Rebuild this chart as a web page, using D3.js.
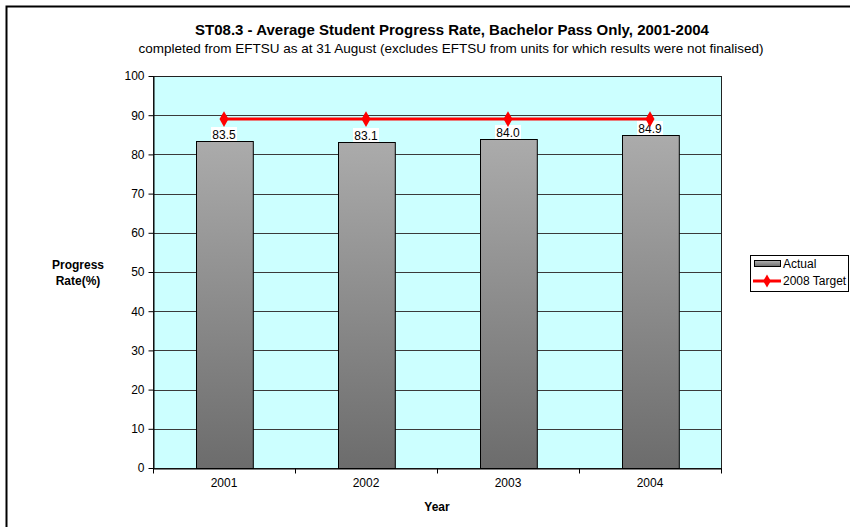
<!DOCTYPE html>
<meta charset="utf-8">
<style>
body { margin: 0; background: #fff; }
svg { display: block; font-family: "Liberation Sans", Arial, sans-serif; }
.grid line { stroke: #3a3a3a; stroke-width: 1; }
.axis path, .axis line { stroke: #000; }
.axis text { font-size: 12px; fill: #000; }
</style>
<svg width="850" height="527"></svg>
<script src="https://cdn.jsdelivr.net/npm/d3@7"></script>
<script>

var years = ["2001", "2002", "2003", "2004"];
var actual = [83.5, 83.1, 84.0, 84.9];
var target = [89, 89, 89, 89];
var yTicks = [0, 10, 20, 30, 40, 50, 60, 70, 80, 90, 100];

var svg = d3.select("svg");

// outer frame (runs off the right and bottom)
svg.append("rect")
    .attr("x", 6.5).attr("y", 6.5)
    .attr("width", 900).attr("height", 600)
    .attr("fill", "none").attr("stroke", "#000").attr("stroke-width", 2);

var plot = {left: 153, top: 76, right: 721, bottom: 468};

var x = d3.scaleBand()
    .domain(years)
    .range([plot.left, plot.right])
    .paddingInner(0.6)
    .paddingOuter(0.3);

var xc = d3.scalePoint()
    .domain(years)
    .range([plot.left, plot.right])
    .padding(0.5);

var y = d3.scaleLinear()
    .domain([0, 100])
    .range([plot.bottom, plot.top]);

var defs = svg.append("defs");
var grad = defs.append("linearGradient")
    .attr("id", "barGrad")
    .attr("x1", 0).attr("y1", 0).attr("x2", 0).attr("y2", 1);
grad.append("stop").attr("offset", "0%").attr("stop-color", "#ababab");
grad.append("stop").attr("offset", "100%").attr("stop-color", "#6c6c6c");

var lgrad = defs.append("linearGradient")
    .attr("id", "legGrad")
    .attr("x1", 0).attr("y1", 0).attr("x2", 0).attr("y2", 1);
lgrad.append("stop").attr("offset", "0%").attr("stop-color", "#b5b5b5");
lgrad.append("stop").attr("offset", "100%").attr("stop-color", "#6c6c6c");

// plot background
svg.append("rect")
    .attr("x", plot.left).attr("y", plot.top)
    .attr("width", plot.right - plot.left)
    .attr("height", plot.bottom - plot.top)
    .attr("fill", "#ccffff");

// gridlines
svg.append("g")
    .attr("class", "grid")
  .selectAll("line")
  .data(yTicks.slice(1))
  .enter().append("line")
    .attr("x1", plot.left).attr("x2", plot.right)
    .attr("y1", function(d) { return Math.round(y(d)) + 0.5; })
    .attr("y2", function(d) { return Math.round(y(d)) + 0.5; });

// plot border
svg.append("rect")
    .attr("x", plot.left + 0.5).attr("y", plot.top + 0.5)
    .attr("width", plot.right - plot.left)
    .attr("height", plot.bottom - plot.top)
    .attr("fill", "none").attr("stroke", "#222");

// bars
svg.append("g")
  .selectAll("rect")
  .data(actual)
  .enter().append("rect")
    .attr("x", function(d, i) { return Math.round(x(years[i])) + 0.5; })
    .attr("y", function(d) { return Math.round(y(d)) + 0.5; })
    .attr("width", x.bandwidth())
    .attr("height", function(d) { return plot.bottom - Math.round(y(d)); })
    .attr("fill", "url(#barGrad)")
    .attr("stroke", "#000").attr("stroke-width", 1);

// value labels
var labels = svg.append("g")
  .selectAll("g")
  .data(actual)
  .enter().append("g")
    .attr("transform", function(d, i) {
      return "translate(" + xc(years[i]) + "," + Math.round(y(d)) + ")";
    });
labels.append("rect")
    .attr("x", -13).attr("y", -14)
    .attr("width", 26).attr("height", 14)
    .attr("fill", "#fff");
labels.append("text")
    .attr("text-anchor", "middle")
    .attr("y", -2)
    .attr("font-size", "12px")
    .text(function(d) { return d.toFixed(1); });

// target line
var line = d3.line()
    .x(function(d, i) { return xc(years[i]); })
    .y(function(d) { return y(d); });
svg.append("path")
    .datum(target)
    .attr("d", line)
    .attr("fill", "none")
    .attr("stroke", "#ff0000")
    .attr("stroke-width", 3);
svg.append("g")
  .selectAll("path")
  .data(target)
  .enter().append("path")
    .attr("d", d3.symbol().type(d3.symbolDiamond).size(70))
    .attr("transform", function(d, i) {
      return "translate(" + xc(years[i]) + "," + y(d) + ")";
    })
    .attr("fill", "#ff0000");

// axes
var yAxis = svg.append("g")
    .attr("class", "axis")
    .attr("transform", "translate(" + (plot.left + 0.5) + ",0)")
    .call(d3.axisLeft(y).tickValues(yTicks).tickSize(5).tickPadding(4).tickSizeOuter(0));

var xAxis = svg.append("g")
    .attr("class", "axis")
    .attr("transform", "translate(0," + (plot.bottom + 0.5) + ")")
    .call(d3.axisBottom(x).tickSize(0).tickPadding(10).tickSizeOuter(0));
xAxis.append("g")
  .selectAll("line")
  .data(d3.range(years.length + 1))
  .enter().append("line")
    .attr("x1", function(i) { return Math.round(plot.left + i * (plot.right - plot.left) / years.length) + 0.5; })
    .attr("x2", function(i) { return Math.round(plot.left + i * (plot.right - plot.left) / years.length) + 0.5; })
    .attr("y1", 0).attr("y2", 5)
    .attr("stroke", "#000");

// titles
svg.append("text")
    .attr("x", 452).attr("y", 35)
    .attr("text-anchor", "middle")
    .attr("font-size", "15px").attr("font-weight", "bold")
    .text("ST08.3 - Average Student Progress Rate, Bachelor Pass Only, 2001-2004");
svg.append("text")
    .attr("x", 451).attr("y", 53)
    .attr("text-anchor", "middle")
    .attr("font-size", "13.5px")
    .text("completed from EFTSU as at 31 August (excludes EFTSU from units for which results were not finalised)");

svg.append("text")
    .attr("x", 437).attr("y", 511)
    .attr("text-anchor", "middle")
    .attr("font-size", "12px").attr("font-weight", "bold")
    .text("Year");

var yt = svg.append("text")
    .attr("text-anchor", "middle")
    .attr("font-size", "12px").attr("font-weight", "bold");
yt.append("tspan").attr("x", 78).attr("y", 269).text("Progress");
yt.append("tspan").attr("x", 78).attr("y", 285).text("Rate(%)");

// legend
var leg = svg.append("g").attr("transform", "translate(750,255)");
leg.append("rect")
    .attr("x", 0.5).attr("y", 0.5).attr("width", 98).attr("height", 36)
    .attr("fill", "#fff").attr("stroke", "#000");
leg.append("rect")
    .attr("x", 4.5).attr("y", 5.5).attr("width", 26).attr("height", 6)
    .attr("fill", "url(#legGrad)").attr("stroke", "#000");
leg.append("text")
    .attr("x", 33).attr("y", 13)
    .attr("font-size", "12px").text("Actual");
leg.append("line")
    .attr("x1", 3).attr("x2", 31).attr("y1", 26).attr("y2", 26)
    .attr("stroke", "#ff0000").attr("stroke-width", 3);
leg.append("path")
    .attr("d", d3.symbol().type(d3.symbolDiamond).size(50))
    .attr("transform", "translate(17,26)")
    .attr("fill", "#ff0000");
leg.append("text")
    .attr("x", 33).attr("y", 30)
    .attr("font-size", "12px").text("2008 Target");

</script>
